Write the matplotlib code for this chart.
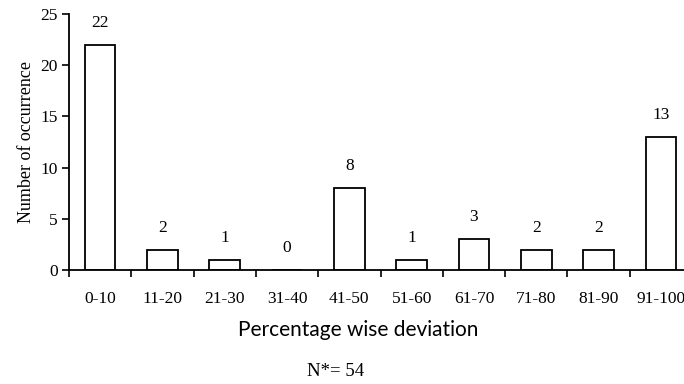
import matplotlib
matplotlib.use("Agg")
import matplotlib.pyplot as plt
import numpy as np

categories = ["0-10", "11-20", "21-30", "31-40", "41-50", "51-60", "61-70", "71-80", "81-90", "91-100"]
counts = [22, 2, 1, 0, 8, 1, 3, 2, 2, 13]
y_ticks = [0, 5, 10, 15, 20, 25]

W, H = 684, 384
fig = plt.figure(figsize=(W / 100, H / 100), dpi=100)
left, right, bottom, top = 69, 692, 270, 14
ax = fig.add_axes([left / W, (H - bottom) / H, (right - left) / W, (bottom - top) / H])

serif = "Liberation Serif"
x = np.arange(len(categories))
ax.bar(x, counts, width=0.49, color="white", edgecolor="black", linewidth=1.3)
for xi, c in zip(x, counts):
    ax.annotate(str(c), (xi, c), xytext=(0, 10), textcoords="offset points",
                ha="center", va="bottom", fontsize=12.5, family=serif)

ax.set_xlim(-0.5, len(categories) - 0.5)
ax.set_ylim(0, 25)
ax.set_yticks(y_ticks)
ax.set_yticklabels([str(t) for t in y_ticks], fontsize=12.5, family=serif)
ax.set_xticks(x)
ax.set_xticklabels(categories, fontsize=12.5, family=serif)
ax.tick_params(axis="x", length=0, pad=15)
ax.set_xticks(np.arange(len(categories)) - 0.5, minor=True)
ax.tick_params(axis="x", which="minor", length=5, width=1.2, direction="out")
ax.tick_params(axis="y", length=5, width=1.2, direction="out", pad=3)
for s in ["top", "right"]:
    ax.spines[s].set_visible(False)
for s in ["left", "bottom"]:
    ax.spines[s].set_linewidth(1.3)

ax.set_ylabel("Number of occurrence", fontsize=13, family=serif, labelpad=4)

fig.text(358 / W, 1 - 330 / H, "Percentage wise deviation", ha="center", va="center",
         fontsize=15, family="Lato")
fig.text(336 / W, 1 - 372 / H, "N*= 54", ha="center", va="center",
         fontsize=13.5, family=serif)

fig.savefig("out.png", dpi=100)
